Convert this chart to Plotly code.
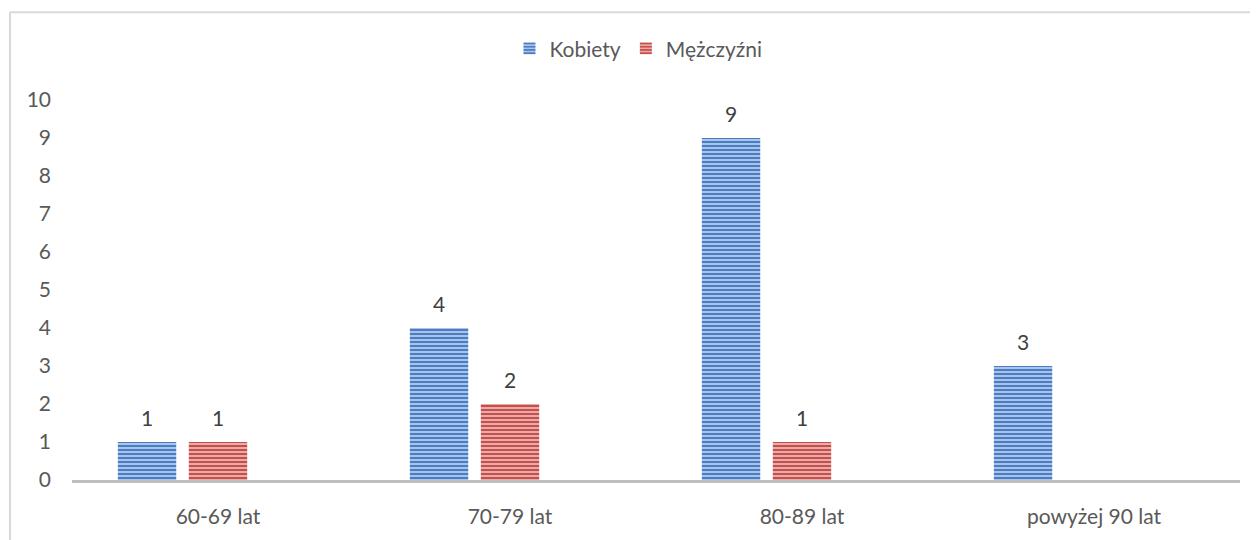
import plotly.graph_objects as go

categories = ["60-69 lat", "70-79 lat", "80-89 lat", "powyżej 90 lat"]
kobiety = [1, 4, 9, 3]
mezczyzni = [1, 2, 1, None]
y_ticks = list(range(0, 11))

FONT = "Lato, Calibri, 'Liberation Sans', sans-serif"
TEXT = "#595959"
LABEL = "#404040"
FS = 21

fig = go.Figure()

fig.add_trace(go.Bar(
    x=categories, y=kobiety, name="Kobiety",
    width=0.2, offset=-0.343,
    marker=dict(
        color="#A7C1E8",
        line=dict(width=0),
        pattern=dict(shape="-", fgcolor="#4A7DC4", bgcolor="#B5CCEE",
                     size=4, solidity=0.55, fillmode="replace"),
    ),
))
fig.add_trace(go.Bar(
    x=categories, y=mezczyzni, name="Mężczyźni",
    width=0.2, offset=-0.1,
    marker=dict(
        color="#E8A9A8",
        line=dict(width=0),
        pattern=dict(shape="-", fgcolor="#C4504C", bgcolor="#EDB5B3",
                     size=4, solidity=0.55, fillmode="replace"),
    ),
))

# data labels above bars
for cat, v in zip(categories, kobiety):
    if v is not None:
        fig.add_annotation(x=cat, y=v, text=str(v), showarrow=False,
                           xshift=-71, yshift=25,
                           font=dict(family=FONT, size=FS, color=LABEL))
for cat, v in zip(categories, mezczyzni):
    if v is not None:
        fig.add_annotation(x=cat, y=v, text=str(v), showarrow=False,
                           xshift=0, yshift=25,
                           font=dict(family=FONT, size=FS, color=LABEL))

# outer chart border (left + top)
fig.add_shape(type="line", xref="paper", yref="paper",
              x0=-0.0531, x1=-0.0531, y0=-0.2, y1=1.231,
              line=dict(color="#D9D9D9", width=2))
fig.add_shape(type="line", xref="paper", yref="paper",
              x0=-0.0531, x1=1.02, y0=1.231, y1=1.231,
              line=dict(color="#D9D9D9", width=2))

fig.update_layout(
    width=1250, height=532,
    paper_bgcolor="white", plot_bgcolor="white",
    font=dict(family=FONT, size=FS, color=TEXT),
    margin=dict(l=64, r=18, t=92, b=55),
    barmode="overlay",
    showlegend=True,
    legend=dict(orientation="h", x=0.485, xanchor="center", y=1.135, yanchor="middle",
                font=dict(family=FONT, size=FS, color=TEXT),
                itemwidth=30, traceorder="normal", bgcolor="rgba(0,0,0,0)"),
    xaxis=dict(
        type="category", showgrid=False, zeroline=False,
        showline=True, linecolor="#BFBFBF", linewidth=2.5,
        ticks="", ticklabelstandoff=16,
        tickfont=dict(family=FONT, size=FS, color=TEXT),
    ),
    yaxis=dict(
        range=[0, 10], tickvals=y_ticks, showgrid=False, zeroline=False,
        showline=False, ticks="", ticklabelstandoff=20,
        tickfont=dict(family=FONT, size=FS, color=TEXT),
    ),
)

fig.write_html("out.html")
